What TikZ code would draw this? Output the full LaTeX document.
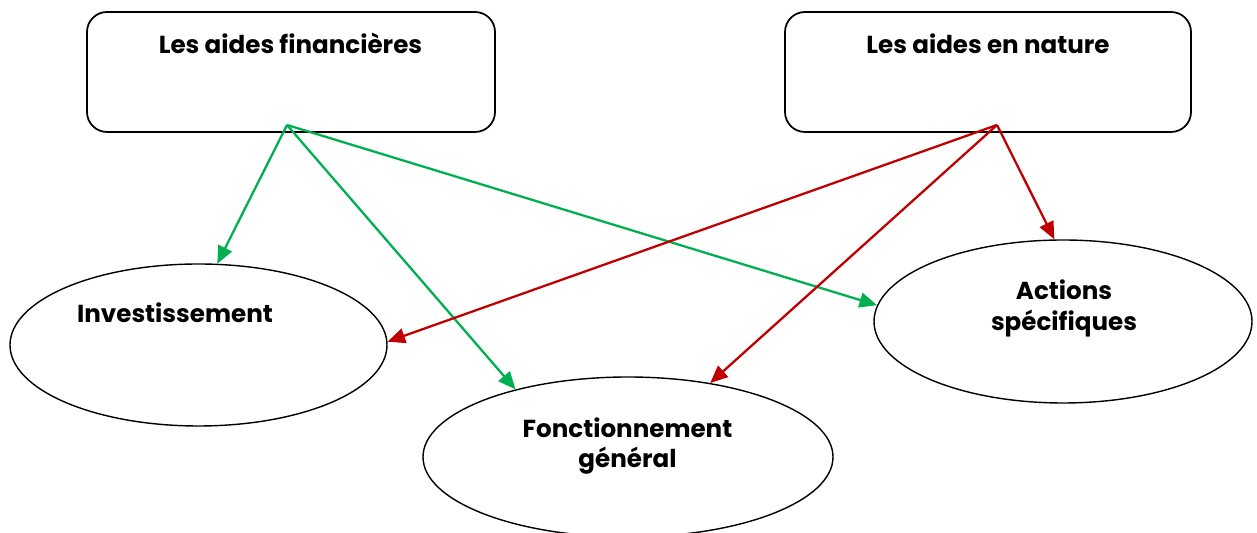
\documentclass[tikz,border=0pt]{standalone}
\usepackage{fontspec}
\setmainfont{Poppins}
\usetikzlibrary{shapes.geometric,arrows.meta}
\definecolor{aidgreen}{RGB}{0,176,80}
\definecolor{aidred}{RGB}{192,0,0}
\begin{document}
\begin{tikzpicture}[font=\bfseries\fontsize{14}{17.4}\selectfont]
    \tikzstyle{box_style} = [draw=black, line width=1pt, rounded corners=0.4cm, minimum width=8.16cm, minimum height=2.4cm, inner sep=0]
    \tikzstyle{ellipse_style} = [draw=black, line width=0.8pt, ellipse, inner sep=0]
    \tikzstyle{text_style} = [align=center, inner sep=0]
    \tikzstyle{arrow_green} = [->, aidgreen, line width=1.3pt, >={Triangle[length=10pt,width=8.5pt]}]
    \tikzstyle{arrow_red} = [->, aidred, line width=1.3pt, >={Triangle[length=10pt,width=8.5pt]}]

    \useasboundingbox (0,0) rectangle (25.14,10.66);

    % the two kinds of aid
    \node[box_style] (fin) at (5.82,9.22) {};
    \node[box_style, minimum width=8.12cm] (nat) at (19.76,9.22) {};
    \node[text_style, anchor=base] (fin_txt) at (5.81,9.58) {Les aides financières};
    \node[text_style, anchor=base] (nat_txt) at (19.76,9.58) {Les aides en nature};

    % what they pay for
    \node[ellipse_style, minimum width=7.54cm, minimum height=3.24cm] (inv) at (3.97,3.76) {};
    \node[ellipse_style, minimum width=8.2cm, minimum height=3.2cm] (fct) at (12.56,1.52) {};
    \node[ellipse_style, minimum width=7.56cm, minimum height=3.26cm] (act) at (21.26,4.23) {};
    \node[text_style, anchor=base] (inv_txt) at (3.5,4.21) {Investissement};
    \node[text_style] (fct_txt) at (12.55,1.74) {Fonctionnement\\général};
    \node[text_style] (act_txt) at (21.28,4.49) {Actions\\spécifiques};

    \coordinate (fin_src) at (5.74,8.16);
    \coordinate (nat_src) at (19.94,8.16);

    \draw[arrow_green] (fin_src) -- (inv.77);
    \draw[arrow_green] (fin_src) -- (fct.149);
    \draw[arrow_green] (fin_src) -- (act.175);

    \draw[arrow_red] (nat_src) -- (inv.1.5);
    \draw[arrow_red] (nat_src) -- (fct.42);
    \draw[arrow_red] (nat_src) -- (act.96);
\end{tikzpicture}
\end{document}
